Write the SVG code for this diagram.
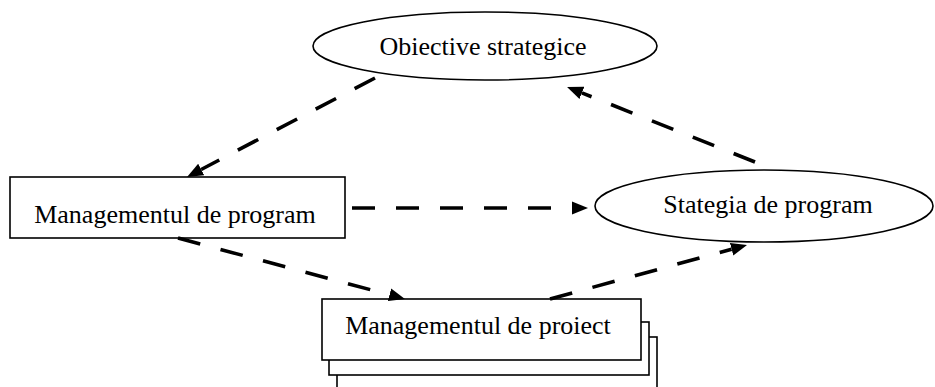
<svg xmlns="http://www.w3.org/2000/svg" width="935" height="387" viewBox="0 0 935 387">
<style>
.shape{fill:#fff;stroke:#000;stroke-width:1.6}
.lbl{font-family:"Liberation Serif","Times New Roman",serif;font-size:26px;fill:#000;text-anchor:middle}
.conn{fill:none;stroke:#000;stroke-width:3.6;stroke-dasharray:23 21}
</style>
<defs>
<marker id="ah" viewBox="0 -7 16 14" markerWidth="16" markerHeight="14" refX="0" refY="0" orient="auto" markerUnits="userSpaceOnUse">
<path d="M0,-6.5 L16,0 L0,6.5 Z" fill="#000"/>
</marker>
</defs>
<rect width="935" height="387" fill="#fff"/>
<g id="obiective">
<ellipse class="shape" cx="485" cy="46" rx="172" ry="34"/>
<text class="lbl" x="483" y="55">Obiective strategice</text>
</g>
<g id="mgmt-program">
<rect class="shape" x="10" y="177" width="335" height="61"/>
<text class="lbl" x="175" y="223">Managementul de program</text>
</g>
<g id="strategia">
<ellipse class="shape" cx="764" cy="206" rx="169" ry="36"/>
<text class="lbl" x="768" y="213">Stategia de program</text>
</g>
<g id="mgmt-proiect">
<rect class="shape" x="337" y="337" width="320" height="70"/>
<rect class="shape" x="329" y="322" width="320" height="53"/>
<rect class="shape" x="322" y="299" width="319" height="61"/>
<text class="lbl" x="478" y="334">Managementul de proiect</text>
</g>
<g id="connectors">
<path class="conn" d="M375,78 L201.2,169.5" marker-end="url(#ah)"/>
<path class="conn" d="M755,162 L581.9,92.9" marker-end="url(#ah)"/>
<path class="conn" d="M352,208 L572,208" marker-end="url(#ah)"/>
<path class="conn" d="M178,238 L389.5,294.8" marker-end="url(#ah)"/>
<path class="conn" d="M550,299 L731.6,249.2" marker-end="url(#ah)"/>
</g>
</svg>
